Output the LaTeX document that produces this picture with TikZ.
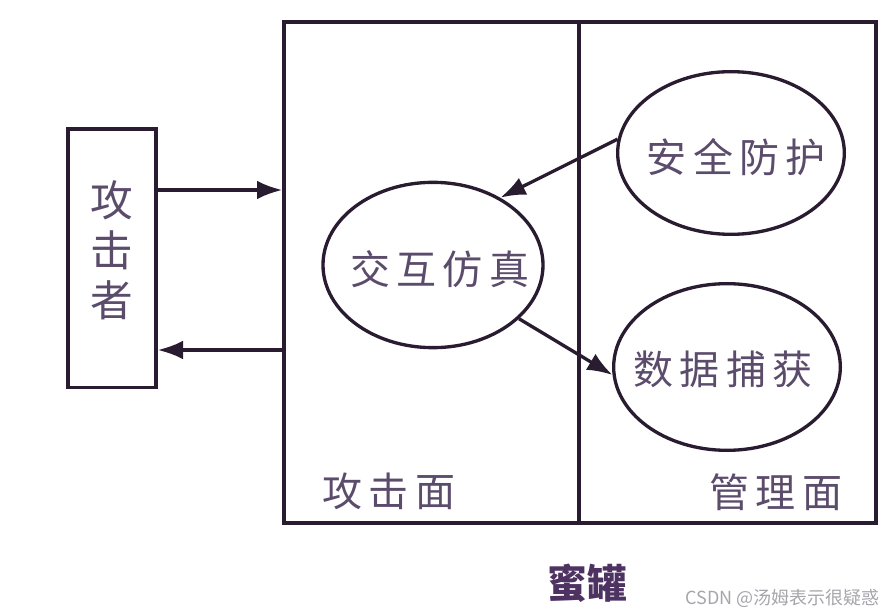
\documentclass[tikz,border=0pt]{standalone}
\usepackage{fontspec}
\usepackage{tikz}
\usetikzlibrary{arrows.meta,shapes.geometric,calc}
\newfontfamily\cjk[LetterSpace=16]{Noto Sans CJK SC}
\newfontfamily\cjkplain{Noto Sans CJK SC}
\definecolor{lineink}{RGB}{42,28,48}
\definecolor{textink}{RGB}{92,76,108}
\definecolor{potink}{RGB}{78,50,98}
\definecolor{markgray}{RGB}{165,165,172}

\begin{document}
\begin{tikzpicture}[x=0.75pt,y=0.75pt,yscale=-1,xscale=1,
  ink/.style={draw=lineink,line width=2.5pt},
  lbl/.style={text=textink,font=\cjk\fontsize{30}{34}\selectfont,inner sep=0pt},
  oval/.style={ink,ellipse,inner sep=0pt},
  flow/.style={draw=lineink,line width=2.5pt,-{Latex[length=19pt,width=14pt]}}]
\useasboundingbox (0,0) rectangle (896,616);

%Rectangles: attacker and the two faces of the honeypot
\node (atk) [ink,minimum width=66pt,minimum height=194pt,
  label={[name=atktext,text=textink,align=center,inner sep=0pt,yshift=6pt,
    font=\cjkplain\fontsize{32}{37.5}\selectfont]center:攻\\击\\者}] at (112,258.5) {};
\node (face) [ink,minimum width=221.25pt,minimum height=375.75pt] at (431.5,272.5) {};
\node (mgmt) [ink,minimum width=222.75pt,minimum height=375.75pt] at (727.5,272.5) {};

%Ellipses
\node (sim) [oval,minimum width=165pt,minimum height=124pt,
  label={[name=simtext,lbl,xshift=5pt,yshift=-3pt]center:交互仿真}] at (433,265) {};
\node (guard) [oval,minimum width=170pt,minimum height=122pt,
  label={[name=guardtext,lbl,xshift=4pt,yshift=-3pt]center:安全防护}] at (731,153) {};
\node (cap) [oval,minimum width=170pt,minimum height=125pt,
  label={[name=captext,lbl,xshift=-3pt,yshift=-2pt]center:数据捕获}] at (727,367) {};

%Straight Lines
\draw [flow] (atk.east |- 0,190) -- (face.west |- 0,190);
\draw [flow] (face.west |- 0,350) -- (atk.east |- 0,350);
\draw [flow] (guard.173) -- (sim.45);
\draw [flow] (sim.-32) -- (cap.184);

% Text Node
\node (atkface) [lbl] at (389,491) {攻击面};
% Text Node
\node (mgmtface) [lbl] at (776,492) {管理面};
% Text Node
\node (pot) [text=potink,font=\cjkplain\bfseries\fontsize{30}{34}\selectfont,inner sep=0pt] at (587,583) {蜜罐};
% Text Node
\node (mark) [text=markgray,font=\cjkplain\fontsize{13.5}{16}\selectfont,inner sep=0pt,anchor=east] at (880,598) {CSDN @汤姆表示很疑惑};

\end{tikzpicture}
\end{document}
